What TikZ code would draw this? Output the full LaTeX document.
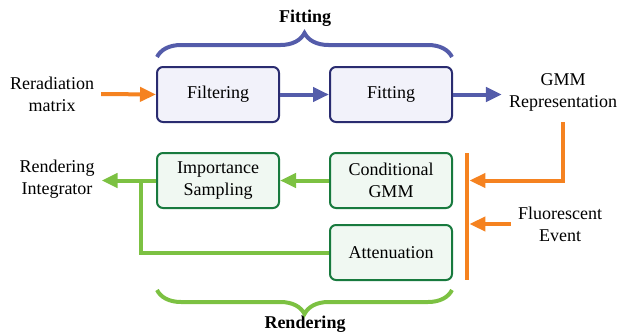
\documentclass[tikz,border=0pt]{standalone}
\usepackage{fontspec}
\setmainfont{Liberation Serif}
\usetikzlibrary{arrows.meta,positioning,decorations.pathreplacing}

\definecolor{fitline}{RGB}{84,92,170}
\definecolor{fitedge}{RGB}{42,44,112}
\definecolor{fitfill}{RGB}{242,242,250}
\definecolor{renline}{RGB}{124,193,66}
\definecolor{renedge}{RGB}{24,122,62}
\definecolor{renfill}{RGB}{240,248,242}
\definecolor{fluo}{RGB}{245,130,32}

\tikzset{
  fitbox/.style={draw=fitedge, fill=fitfill, line width=1pt, rounded corners=3pt,
    minimum width=61pt, minimum height=27.5pt, align=center},
  renbox/.style={draw=renedge, fill=renfill, line width=1pt, rounded corners=3pt,
    minimum width=61pt, minimum height=27.5pt, align=center},
  plain/.style={align=center},
  thick arrow/.style={line width=2pt, -{Triangle[length=8pt,width=7pt]}},
  bracefit/.style={decorate, decoration={brace, amplitude=12pt}, line width=2pt, draw=fitline},
  bracerend/.style={decorate, decoration={brace, amplitude=12pt}, line width=2pt, draw=renline}
}

\begin{document}
\begin{tikzpicture}[x=0.5pt, y=-0.5pt, node distance=86.5pt, on grid,
    font=\fontsize{9}{11}\selectfont]
   \useasboundingbox (0,0) rectangle (619,332);

   \node[fitbox] (filter) at (218,94.5) {Filtering};
   \node[fitbox] (fit) [right=of filter] {Fitting};
   \node[renbox] (imp) [below=43pt of filter] {Importance\\Sampling};
   \node[renbox] (cond) [right=of imp] {Conditional\\GMM};
   \node[renbox] (att) [below=36pt of cond] {Attenuation};

   \node[plain] (rerad) at (52,94) {Reradiation\\matrix};
   \node[plain] (gmm) at (563,92) {GMM\\Representation};
   \node[plain] (integ) at (57,179) {Rendering\\Integrator};
   \node[plain] (event) at (560,224) {Fluorescent\\Event};

   \node[fill=fluo, inner sep=0pt, minimum width=2pt, minimum height=63.5pt] (bar) at (467,216.5) {};
   \coordinate (gmmdrop) at (563,122);
   \coordinate (split) at (141,180.5);

   \node[font=\bfseries\fontsize{9}{11}\selectfont] (fittitle) at (305,18) {Fitting};
   \node[font=\bfseries\fontsize{9}{11}\selectfont] (rendtitle) at (305,324) {Rendering};

   \draw[bracefit] (157,57) -- (452,57);
   \draw[bracerend] (452,290) -- (157,290);

   \draw[thick arrow, fluo] (rerad.east) -- (filter.west);
   \draw[thick arrow, fitline] (filter) -- (fit);
   \draw[thick arrow, fitline] (fit.east) -- (gmm.west |- fit.east);

   \draw[thick arrow, fluo] (gmmdrop) |- (bar.east |- cond.east);
   \draw[thick arrow, fluo] (event.west) -- (bar.east |- event.west);

   \draw[thick arrow, renline] (cond) -- (imp);
   \draw[thick arrow, renline] (imp.west) -- (integ.east |- imp.west);
   \draw[renline, line width=2pt] (att.west) -| (split);
\end{tikzpicture}
\end{document}
